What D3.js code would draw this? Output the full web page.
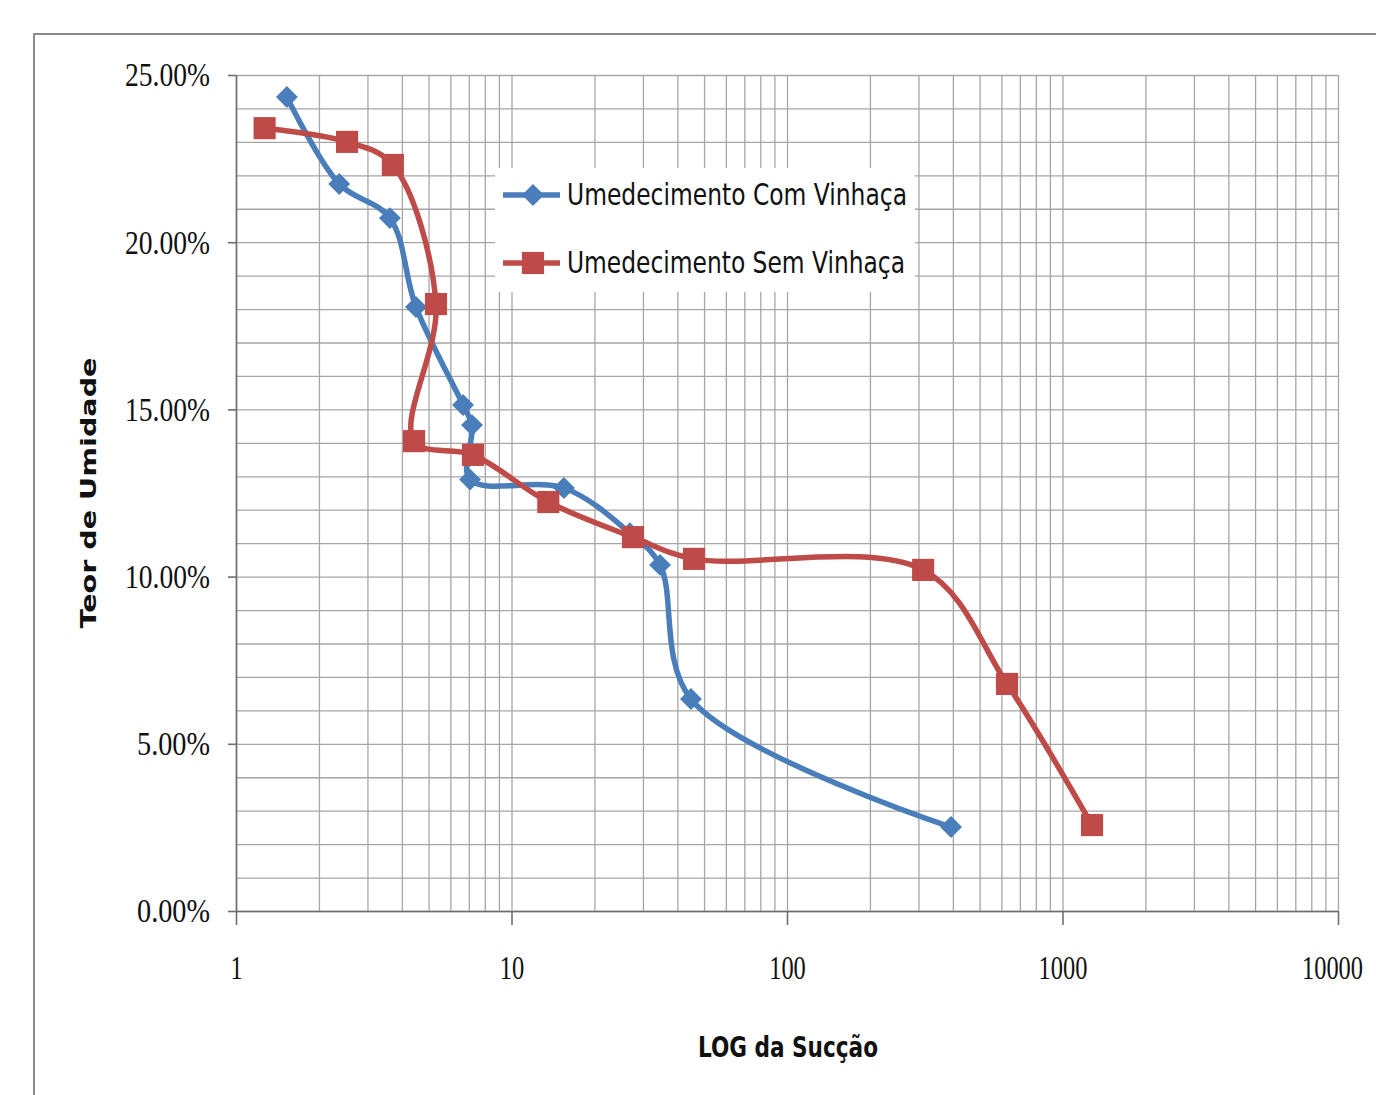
<!DOCTYPE html>
<html>
<head>
<meta charset="utf-8">
<script src="https://cdn.jsdelivr.net/npm/d3@7"></script>
<style>
  body { margin: 0; background: #fff; }
  svg { display: block; }
  .grid line { stroke: #a6a6a6; stroke-width: 1.3; }
  .grid path { display: none; }
  .axis path, .axis line { stroke: #6e6e6e; stroke-width: 1.6; }
  .axis text { font-family: "Liberation Serif", "DejaVu Serif", serif; font-size: 34px; fill: #111; }
</style>
</head>
<body>
<svg width="1376" height="1095"></svg>
<script>
// --- data (suction in log scale, moisture content as fraction) ---
const comSuccao = [1.53, 2.37, 3.62, 4.5, 6.67, 7.19, 7.07, 15.5, 26.9, 34.6, 44.8, 394];
const comUmidade = [0.2434, 0.2174, 0.2072, 0.1806, 0.1513, 0.1453, 0.1290, 0.1265, 0.1130, 0.1035, 0.0634, 0.0251];
const semSuccao = [1.27, 2.53, 3.71, 5.32, 4.43, 7.25, 13.6, 27.6, 46, 312, 629, 1280];
const semUmidade = [0.2341, 0.2300, 0.2231, 0.1815, 0.1405, 0.1364, 0.1223, 0.1118, 0.1053, 0.1020, 0.0679, 0.0257];

const seriesNames = ["Umedecimento Com Vinhaça", "Umedecimento Sem Vinhaça"];
const xTickValues = [1, 10, 100, 1000, 10000];
const yTickValues = [0, 0.05, 0.10, 0.15, 0.20, 0.25];

const svg = d3.select("svg");

// outer chart border (runs off the right and bottom edge in the reference)
svg.append("rect")
  .attr("x", 34).attr("y", 34)
  .attr("width", 1400).attr("height", 1100)
  .attr("fill", "none")
  .attr("stroke", "#8c8c8c")
  .attr("stroke-width", 2);

const x = d3.scaleLog().domain([1, 10000]).range([236, 1338]);
const y = d3.scaleLinear().domain([0, 0.25]).range([911, 75]);

// minor grid values: 1..9 of every decade, and 1% steps
const xGridValues = [];
for (let d = 1; d < 10000; d *= 10) {
  for (let k = 1; k <= 9; k++) xGridValues.push(d * k);
}
xGridValues.push(10000);
const yGridValues = d3.range(0, 26).map(i => i / 100);

svg.append("g")
  .attr("class", "grid")
  .attr("transform", `translate(0,${y(0)})`)
  .call(d3.axisBottom(x).tickValues(xGridValues).tickSize(-(y(0) - y(0.25))).tickFormat(""));

svg.append("g")
  .attr("class", "grid")
  .attr("transform", `translate(${x(1)},0)`)
  .call(d3.axisLeft(y).tickValues(yGridValues).tickSize(-(x(10000) - x(1))).tickFormat(""));

// axes (labels in the reference are tall and narrow, so squeeze them)
svg.append("g")
  .attr("class", "axis")
  .attr("transform", `translate(0,${y(0)})`)
  .call(d3.axisBottom(x).tickValues(xTickValues).tickFormat(d3.format("d")).tickSize(14).tickSizeOuter(0).tickPadding(30))
  .selectAll("text")
  .attr("textLength", function() { return this.textContent.length * 12.2; })
  .attr("lengthAdjust", "spacingAndGlyphs")
  .attr("dx", d => d === 10000 ? -6 : 0); // keep the last label inside the page

svg.append("g")
  .attr("class", "axis")
  .attr("transform", `translate(${x(1)},0)`)
  .call(d3.axisLeft(y).tickValues(yTickValues).tickFormat(d3.format(".2%")).tickSize(8).tickSizeOuter(0).tickPadding(18))
  .selectAll("text")
  .attr("textLength", function() { return this.textContent.length === 6 ? 85 : 73; })
  .attr("lengthAdjust", "spacingAndGlyphs");

// axis titles
svg.append("text")
  .attr("x", 788).attr("y", 1057)
  .attr("text-anchor", "middle")
  .attr("font-family", "'Liberation Sans Narrow', 'DejaVu Sans Condensed', sans-serif")
  .attr("font-weight", "bold")
  .attr("font-size", 29)
  .attr("textLength", 180)
  .attr("lengthAdjust", "spacingAndGlyphs")
  .attr("fill", "#111")
  .text("LOG  da Sucção");

svg.append("text")
  .attr("transform", "translate(96,493) rotate(-90)")
  .attr("text-anchor", "middle")
  .attr("font-family", "'DejaVu Sans', Verdana, sans-serif")
  .attr("font-weight", "bold")
  .attr("font-size", 22)
  .attr("textLength", 271)
  .attr("lengthAdjust", "spacingAndGlyphs")
  .attr("fill", "#111")
  .text("Teor de Umidade");

// series
const colors = ["#4a7ebb", "#be4b48"];
const series = [
  { name: seriesNames[0], xs: comSuccao, ys: comUmidade, color: colors[0], shape: "diamond" },
  { name: seriesNames[1], xs: semSuccao, ys: semUmidade, color: colors[1], shape: "square" }
];

const line = d3.line()
  .x(d => x(d[0]))
  .y(d => y(d[1]))
  .curve(d3.curveCatmullRom.alpha(0.5));

const diamond = d3.symbol(d3.symbolSquare, 240)();
const square = d3.symbol(d3.symbolSquare, 490)();

function marker(sel, shape, color) {
  sel.append("path")
    .attr("d", shape === "diamond" ? diamond : square)
    .attr("transform", shape === "diamond" ? "rotate(45)" : null)
    .attr("fill", color);
}

series.forEach(s => {
  const pts = s.xs.map((v, i) => [v, s.ys[i]]);
  const g = svg.append("g");
  g.append("path")
    .datum(pts)
    .attr("d", line)
    .attr("fill", "none")
    .attr("stroke", s.color)
    .attr("stroke-width", 5.5)
    .attr("stroke-linejoin", "round");
  g.selectAll("g.pt")
    .data(pts)
    .join("g")
    .attr("class", "pt")
    .attr("transform", d => `translate(${x(d[0])},${y(d[1])})`)
    .each(function() { marker(d3.select(this), s.shape, s.color); });
});

// legend
const legend = svg.append("g").attr("transform", "translate(495,168)");
legend.append("rect")
  .attr("width", 420).attr("height", 124)
  .attr("fill", "#fff");

series.forEach((s, i) => {
  const row = legend.append("g").attr("transform", `translate(0,${27 + i * 68})`);
  row.append("line")
    .attr("x1", 8).attr("x2", 65)
    .attr("stroke", s.color).attr("stroke-width", 5.5);
  const m = row.append("g").attr("transform", "translate(38,0)");
  marker(m, s.shape, s.color);
  row.append("text")
    .attr("x", 72).attr("y", 10)
    .attr("font-family", "'Liberation Sans Narrow', 'DejaVu Sans Condensed', sans-serif")
    .attr("font-size", 31)
    .attr("textLength", i === 0 ? 340 : 338)
    .attr("lengthAdjust", "spacingAndGlyphs")
    .attr("fill", "#111")
    .text(s.name);
});
</script>
</body>
</html>
